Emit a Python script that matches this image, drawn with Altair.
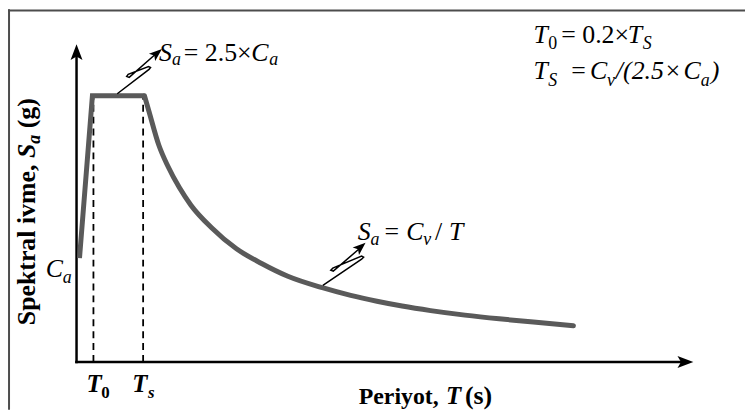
import altair as alt
import pandas as pd

# ---------------- values ----------------
# rise from C_a to the plateau, then the plateau  (T in s, Sa in g)
rise_T = [0.026, 0.139, 0.595]
rise_Sa = [0.39, 1.00, 1.00]
# descending branch  Sa = Cv / T
desc_T = [0.595, 0.635, 0.72, 0.80, 0.90, 1.00, 1.18, 1.40, 1.62, 1.85, 2.16,
          2.40, 2.63, 2.85, 3.10, 3.40, 3.70, 4.00, 4.35]
desc_Sa = [1.00, 0.94, 0.815, 0.735, 0.655, 0.59, 0.505, 0.425, 0.37, 0.322, 0.278,
           0.250, 0.228, 0.210, 0.193, 0.176, 0.162, 0.150, 0.136]
# dashed guides at T0 and Ts
guide_T = [0.148, 0.583]
guide_top = [1.00, 1.00]
# axis lines and arrow heads
x_axis_T = [-0.012, 5.33]
y_axis_Sa = [-0.005, 1.16]
head_T = [0.0, 5.40, 0.7478, 2.5304]
head_Sa = [1.194, 0.0, 1.1754, 0.4478]
head_ang = [0, 90, 50, 49]
head_size = [256, 256, 169, 169]
# "spring" leader lines to the formulas
lead1_T = [0.3565, 0.6348, 0.6478, 0.6304, 0.4522, 0.4391, 0.4609, 0.7130]
lead1_Sa = [1.0075, 1.0989, 1.1063, 1.1101, 1.0802, 1.0728, 1.0690, 1.1642]
lead2_T = [2.1565, 2.4957, 2.5130, 2.4957, 2.2435, 2.2261, 2.2478, 2.4957]
lead2_Sa = [0.2873, 0.3862, 0.3937, 0.3974, 0.3526, 0.3451, 0.3414, 0.4328]

# ---------------- text pieces ----------------
# italic (math) pieces
it_txt = ["S", "a", "C", "a",
          "S", "a", "C", "v", "T",
          "T", "T", "S",
          "T", "S", "C", "v", "/(2.5×", "C", "a", ")",
          "C", "a"]
it_T = [0.7217, 0.8348, 1.5304, 1.6870,
        2.4609, 2.5739, 2.8870, 3.0348, 3.2609,
        4.0, 4.8261, 4.9565,
        4.0, 4.1304, 4.4957, 4.6435, 4.7217, 5.3130, 5.4652, 5.5522,
        -0.2696, -0.1217]
it_Sa = [1.1325, 1.1157, 1.1325, 1.1157,
         0.4590, 0.4403, 0.4590, 0.4403, 0.4590,
         1.1978, 1.1978, 1.1754,
         1.0634, 1.0373, 1.0634, 1.0373, 1.0634, 1.0634, 1.0373, 1.0634,
         0.3209, 0.2985]
it_fs = [26, 18, 26, 18,
         26, 18, 26, 18, 26,
         26, 26, 18,
         26, 18, 26, 18, 26, 26, 18, 26,
         26, 18]
# upright regular pieces
rg_txt = ["= 2.5×", "=", "/", "0", "= 0.2×", "="]
rg_T = [0.9391, 2.6957, 3.1391, 4.1304, 4.2435, 4.3304]
rg_Sa = [1.1325, 0.4590, 0.4590, 1.1754, 1.1978, 1.0634]
rg_fs = [26, 26, 26, 18, 26, 26]
# bold upright pieces (x title, tick subscript)
bd_txt = ["Periyot,", "(s)", "0"]
bd_T = [2.470, 3.400, 0.2174]
bd_Sa = [-0.1567, -0.1567, -0.1343]
bd_fs = [24, 26, 17]
# bold italic pieces
bi_txt = ["T", "T", "T", "s"]
bi_T = [3.235, 0.087, 0.487, 0.626]
bi_Sa = [-0.1567, -0.1119, -0.1119, -0.1343]
bi_fs = [25, 25, 25, 17]
# rotated y title
yt_txt = ["Spektral ivme,", "(g)"]
yt_T = [-0.3652, -0.3652]
yt_Sa = [0.1381, 0.8780]
yt_fs = [26, 26]
ytb_txt = ["S", "a"]
ytb_T = [-0.3652, -0.3217]
ytb_Sa = [0.7660, 0.8201]
ytb_fs = [26, 18]

# ---------------- scales ----------------
XMIN, XMAX = -0.6, 5.85217
YMIN, YMAX = -0.1791, 1.32463
xs = alt.Scale(domain=[XMIN, XMAX], nice=False, zero=False)
ys = alt.Scale(domain=[YMIN, YMAX], nice=False, zero=False)
FONT = "Liberation Serif"
CURVE = "#5a5a5a"


def xy():
    return dict(x=alt.X("T:Q", scale=xs, axis=None),
                y=alt.Y("Sa:Q", scale=ys, axis=None))


def line_df(T, Sa):
    return pd.DataFrame({"T": T, "Sa": Sa, "i": list(range(len(T)))})


# frame (top and left edges of the figure box)
frame_top = alt.Chart(pd.DataFrame({"T": [XMIN], "T2": [XMAX], "Sa": [YMAX - 0.004]})).mark_rule(
    color="#4d4d4d", strokeWidth=2).encode(
    x=alt.X("T:Q", scale=xs, axis=None), x2="T2:Q", y=alt.Y("Sa:Q", scale=ys, axis=None))
frame_left = alt.Chart(pd.DataFrame({"T": [XMIN + 0.009], "Sa": [YMIN], "Sa2": [YMAX]})).mark_rule(
    color="#4d4d4d", strokeWidth=2).encode(
    x=alt.X("T:Q", scale=xs, axis=None), y=alt.Y("Sa:Q", scale=ys, axis=None), y2="Sa2:Q")

# axes
x_axis = alt.Chart(pd.DataFrame({"T": [x_axis_T[0]], "T2": [x_axis_T[1]], "Sa": [0.0]})).mark_rule(
    color="black", strokeWidth=2.5).encode(
    x=alt.X("T:Q", scale=xs, axis=None), x2="T2:Q", y=alt.Y("Sa:Q", scale=ys, axis=None))
y_axis = alt.Chart(pd.DataFrame({"T": [0.0], "Sa": [y_axis_Sa[0]], "Sa2": [y_axis_Sa[1]]})).mark_rule(
    color="black", strokeWidth=2.5).encode(
    x=alt.X("T:Q", scale=xs, axis=None), y=alt.Y("Sa:Q", scale=ys, axis=None), y2="Sa2:Q")

# dashed guides
guides = alt.Chart(pd.DataFrame({"T": guide_T, "Sa": [0.0, 0.0], "top": guide_top})).mark_rule(
    color="black", strokeWidth=1.8, strokeDash=[7, 5]).encode(
    x=alt.X("T:Q", scale=xs, axis=None), y=alt.Y("Sa:Q", scale=ys, axis=None), y2="top:Q")

# spectrum curve
rise = alt.Chart(line_df(rise_T, rise_Sa)).mark_line(
    color=CURVE, strokeWidth=5, strokeCap="butt", strokeJoin="miter").encode(**xy(), order="i:Q")
desc = alt.Chart(line_df(desc_T, desc_Sa)).mark_line(
    color=CURVE, strokeWidth=5, strokeCap="round", interpolate="monotone").encode(**xy(), order="i:Q")

# leader lines
lead1 = alt.Chart(line_df(lead1_T, lead1_Sa)).mark_line(color="black", strokeWidth=1.5).encode(
    **xy(), order="i:Q")
lead2 = alt.Chart(line_df(lead2_T, lead2_Sa)).mark_line(color="black", strokeWidth=1.5).encode(
    **xy(), order="i:Q")

# arrow heads
ARROW = "M0,0L-0.75,2L0,1.55L0.75,2Z"
heads = alt.Chart(pd.DataFrame({"T": head_T, "Sa": head_Sa, "ang": head_ang, "sz": head_size})).mark_point(
    shape=ARROW, filled=True, color="black", opacity=1, strokeWidth=0).encode(
    **xy(),
    angle=alt.Angle("ang:Q", scale=None),
    size=alt.Size("sz:Q", scale=None, legend=None))


def text_layer(txt, T, Sa, fs, style="normal", weight="normal", angle=0):
    df = pd.DataFrame({"txt": txt, "T": T, "Sa": Sa, "fs": fs})
    return alt.Chart(df).mark_text(
        font=FONT, fontStyle=style, fontWeight=weight, angle=angle,
        align="left", baseline="alphabetic", color="black").encode(
        **xy(), text="txt:N", size=alt.Size("fs:Q", scale=None, legend=None))


t_it = text_layer(it_txt, it_T, it_Sa, it_fs, style="italic")
t_rg = text_layer(rg_txt, rg_T, rg_Sa, rg_fs)
t_bd = text_layer(bd_txt, bd_T, bd_Sa, bd_fs, weight="bold")
t_bi = text_layer(bi_txt, bi_T, bi_Sa, bi_fs, style="italic", weight="bold")
t_yt = text_layer(yt_txt, yt_T, yt_Sa, yt_fs, weight="bold", angle=270)
t_ytb = text_layer(ytb_txt, ytb_T, ytb_Sa, ytb_fs, style="italic", weight="bold", angle=270)

chart = alt.layer(
    frame_top, frame_left, guides, x_axis, y_axis, rise, desc, lead1, lead2, heads,
    t_it, t_rg, t_bd, t_bi, t_yt, t_ytb
).properties(
    width=742, height=403, padding=0,
    autosize=alt.AutoSizeParams(type="none"),
    background="white",
).configure_view(stroke="transparent")

chart.save("out.html", embed_options={"renderer": "svg", "actions": False})
